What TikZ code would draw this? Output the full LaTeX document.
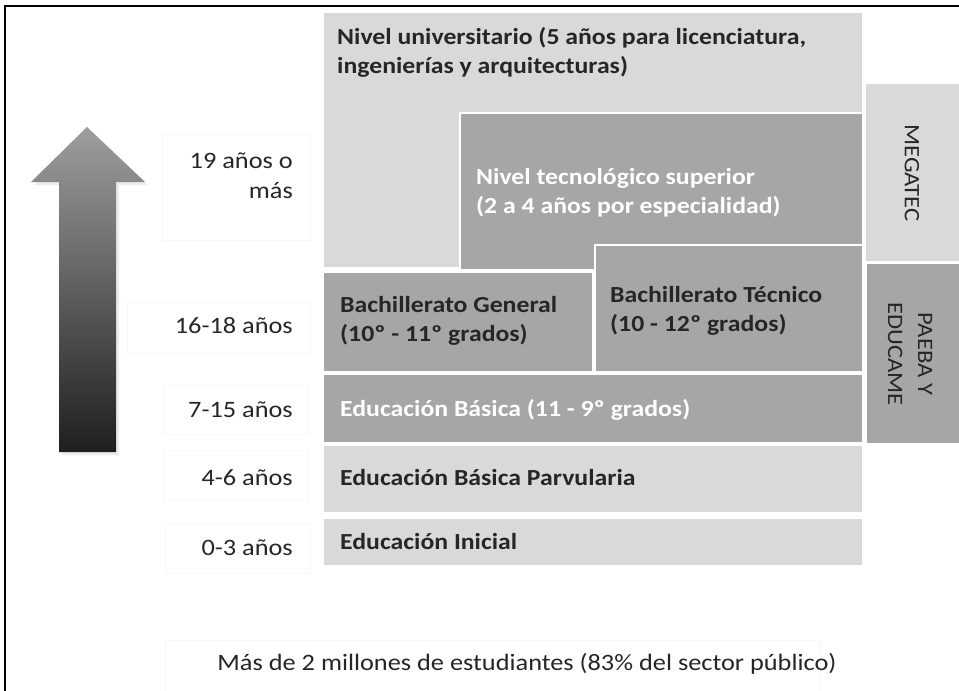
\documentclass[tikz,border=0pt]{standalone}
\usepackage{fontspec}
\setmainfont{Carlito}[FakeStretch=1.12]
\usetikzlibrary{shadows,positioning}

\definecolor{boxlight}{HTML}{D9D9D9}
\definecolor{boxdark}{HTML}{A6A6A6}
\definecolor{inktext}{HTML}{262626}

\begin{document}
\begin{tikzpicture}[
  x=1pt,
  y=-1pt,
  lightbox/.style={fill=boxlight, draw=white, line width=1.5pt},
  darkbox/.style={fill=boxdark, draw=white, line width=1.5pt},
  agebox/.style={draw=black!3, line width=0.6pt},
  boxtext/.style={font=\fontsize{23}{29}\selectfont\bfseries, text=inktext, anchor=west, align=left, inner sep=0pt},
  whitetext/.style={boxtext, text=white},
  agetext/.style={font=\fontsize{23.5}{30}\selectfont, text=inktext, anchor=east, align=right, inner sep=0pt},
  sidetext/.style={font=\fontsize{22}{30}\selectfont, text=inktext, rotate=-90, align=center, inner sep=0pt}
]
\clip (0,0) rectangle (959,691);
\fill[white] (0,0) rectangle (959,691);

% Outer frame, cut by the right and bottom edges.
\draw[line width=2.5pt] (5,700) -- (5,6) -- (970,6);

% Levels, from the top down; later boxes sit over earlier ones.
\draw[lightbox] (323,12) rectangle (863,268);
\draw[lightbox] (865,83) rectangle (975,262);
\draw[darkbox] (866,263) rectangle (975,444);
\draw[darkbox] (460,113) rectangle (863,270);
\draw[darkbox] (323,272) rectangle (593,372);
\draw[darkbox] (595,245) rectangle (863,372);
\draw[darkbox] (323,374) rectangle (863,443);
\draw[lightbox] (323,445) rectangle (863,513);
\draw[lightbox] (323,518) rectangle (863,566);

% Faint frames behind the age labels.
\foreach \xa/\ya/\xb/\yb in {162/134/310/240, 127/302/310/353, 163/385/308/434,
                             163/450/308/500, 165/524/310/573, 165/640/820/695} {
  \draw[agebox] (\xa,\ya) rectangle (\xb,\yb);
}

% Age arrow.
\path[top color=black!38, bottom color=black!88, draw=none,
      drop shadow={shadow xshift=3pt, shadow yshift=-3pt, opacity=0.15}]
  (87,127) -- (145,182) -- (116,182) -- (116,452) -- (59,452) -- (59,182) -- (31,182) -- cycle;

% Level texts.
\node[boxtext] (univ) at (337,52) {Nivel universitario (5 años para licenciatura,\\ingenierías y arquitecturas)};
\node[whitetext] (tecno) at (476,193) {Nivel tecnológico superior\\(2 a 4 años por especialidad)};
\node[boxtext] (bachgen) at (340,321) {Bachillerato General\\(10º - 11º grados)};
\node[boxtext] (bachtec) at (610,311) {Bachillerato Técnico\\(10 - 12º grados)};
\node[whitetext] (basica) at (340,410) {Educación Básica (11 - 9º grados)};
\node[boxtext] (parvu) at (340,478) {Educación Básica Parvularia};
\node[boxtext] (inicial) at (340,542) {Educación Inicial};

% Side programmes, set vertically.
\node[sidetext] (megatec) at (912,173) {MEGATEC};
\node[sidetext] (paeba) at (910,354) {PAEBA Y\\EDUCAME};

% Ages.
\foreach \yy/\lab/\nm in {176/{19 años o\\más}/a19, 326/16-18 años/a16, 410/7-15 años/a7,
                          478/4-6 años/a4, 548/0-3 años/a0} {
  \node[agetext] (\nm) at (293,\yy) {\lab};
}

\node[font=\fontsize{23.5}{30}\selectfont, text=inktext, inner sep=0pt] (total) at (527,664)
  {Más de 2 millones de estudiantes (83\% del sector público)};
\end{tikzpicture}
\end{document}
